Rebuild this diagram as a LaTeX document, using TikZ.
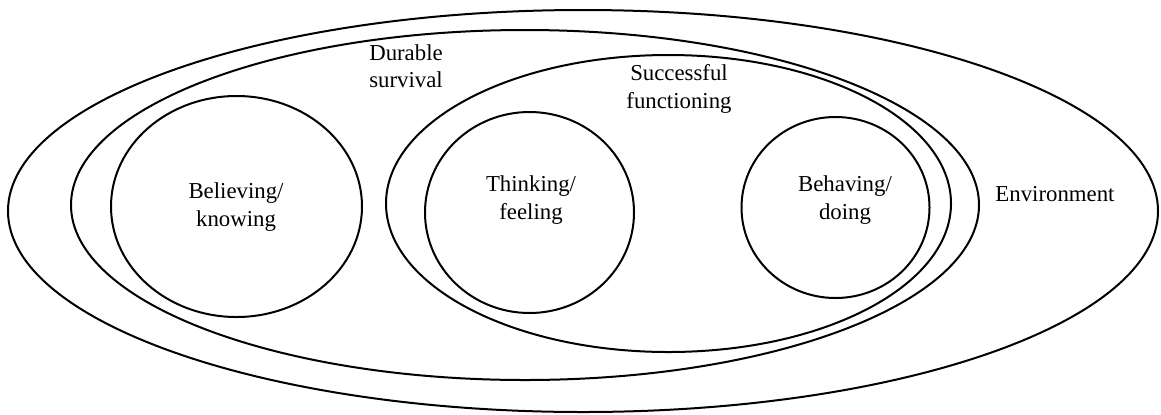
\documentclass[tikz,border=0pt]{standalone}
\usepackage{fontspec}
\setmainfont{Liberation Serif}
\usetikzlibrary{shapes.geometric}
\tikzset{
  ring/.style={draw, ellipse, line width=1pt, inner sep=0pt},
  label text/.style={font=\fontsize{11.4}{13.7}\selectfont, align=center, inner sep=0pt}
}
\begin{document}
\begin{tikzpicture}[x=0.5pt, y=-0.5pt]
  \useasboundingbox (0,0) rectangle (1161,414);
  % nested domains
  \node[ring, minimum width=575pt, minimum height=201pt] (env) at (583,211) {};
  \node[ring, minimum width=454pt, minimum height=175pt] (surv) at (525,205) {};
  \node[ring, minimum width=282.5pt, minimum height=148.5pt] (func) at (668.5,203.5) {};
  % the three activities
  \node[ring, minimum width=125.5pt, minimum height=110.5pt] (believe) at (236.5,206.5) {};
  \node[ring, minimum width=104.5pt, minimum height=100.5pt] (think) at (529.5,212.5) {};
  \node[ring, minimum width=94pt, minimum height=90.5pt] (behave) at (835.5,207.5) {};
  % labels
  \node[label text] (env-t) at (1055,194.5) {Environment};
  \node[label text] (surv-t) at (406,66) {Durable\\survival};
  \node[label text] (func-t) at (679,89) {Successful\\functioning};
  \node[label text] (believe-t) at (236,207) {Believing/\\knowing};
  \node[label text] (think-t) at (531,200) {Thinking/\\feeling};
  \node[label text] (behave-t) at (845,200) {Behaving/\\doing};
\end{tikzpicture}
\end{document}
